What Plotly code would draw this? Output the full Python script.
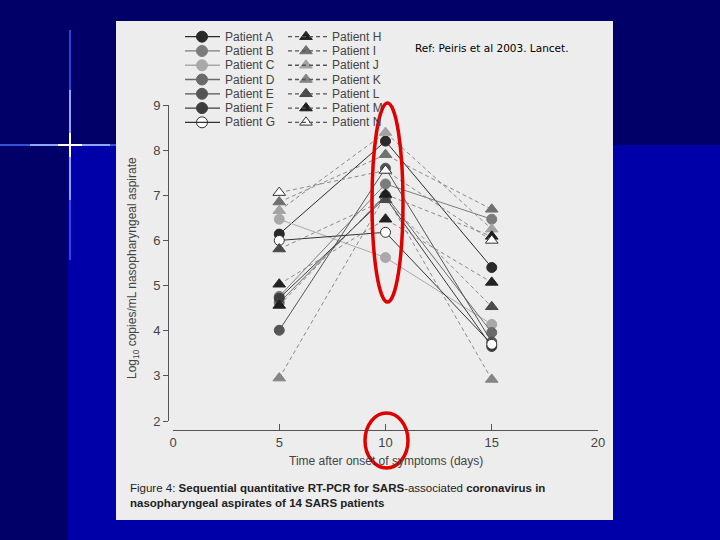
import plotly.graph_objects as go

W, H = 720, 540

# ---------------- data ----------------
days = [5, 10, 15]
x_ticks = [0, 5, 10, 15, 20]
y_ticks = [2, 3, 4, 5, 6, 7, 8, 9]

solid_names = ["Patient A", "Patient B", "Patient C", "Patient D", "Patient E", "Patient F", "Patient G"]
dashed_names = ["Patient H", "Patient I", "Patient J", "Patient K", "Patient L", "Patient M", "Patient N"]

patient_A = [6.14, 8.20, 5.40]
patient_B = [4.76, 7.25, 6.47]
patient_C = [6.47, 5.62, 4.14]
patient_D = [4.62, 7.00, 3.96]
patient_E = [4.01, 7.60, 3.75]
patient_F = [4.72, 6.95, 3.65]
patient_G = [6.00, 6.18, 3.70]

patient_H = [5.03, 6.47, 5.07]
patient_I = [6.85, 7.90, 6.69]
patient_J = [6.66, 8.39, 6.25]
patient_K = [2.95, 7.00, 2.92]
patient_L = [5.81, 6.90, 4.53]
patient_M = [4.56, 7.02, 6.09]
patient_N = [7.06, 7.55, 6.00]

solid_vals = [patient_A, patient_B, patient_C, patient_D, patient_E, patient_F, patient_G]
dashed_vals = [patient_H, patient_I, patient_J, patient_K, patient_L, patient_M, patient_N]

solid_colors = ["#2a2a2a", "#7c7c7c", "#a9a9a9", "#6a6a6a", "#555555", "#3d3d3d", "#ffffff"]
dashed_colors = ["#222222", "#707070", "#a3a3a3", "#858585", "#4a4a4a", "#1e1e1e", "#ffffff"]

# ---------------- helpers (layout, pixel -> paper) ----------------
def px(x):
    return x / W

def py(y):
    return 1 - y / H

fig = go.Figure()

# data traces
for name, vals, col in zip(solid_names, solid_vals, solid_colors):
    open_m = col == "#ffffff"
    fig.add_trace(go.Scatter(
        x=days, y=vals, mode="lines+markers", name=name, showlegend=False,
        line=dict(color="#333333" if open_m else col, width=1),
        marker=dict(symbol="circle", size=10, color=col,
                    line=dict(color="#333333" if open_m else col, width=1)),
        cliponaxis=False,
    ))
for name, vals, col in zip(dashed_names, dashed_vals, dashed_colors):
    open_m = col == "#ffffff"
    fig.add_trace(go.Scatter(
        x=days, y=vals, mode="lines+markers", name=name, showlegend=False,
        line=dict(color="#8a8a8a", width=1, dash="4px,3px"),
        marker=dict(symbol="triangle-up", size=11, color=col,
                    line=dict(color="#333333" if open_m else col, width=1)),
        cliponaxis=False,
    ))

# ---------------- manual legend (pixel overlay axes) ----------------
row0, row_gap = 36.7, 14.27
col1_line = (185, 220, 202, 223)   # line start, line end, marker x, text x
col2_line = (288, 327, 306, 330)
shapes = []
annotations = []

leg_mx, leg_my, leg_sym, leg_col, leg_lc = [], [], [], [], []
for i, (name, col) in enumerate(zip(solid_names, solid_colors)):
    yy = row0 + i * row_gap
    shapes.append(dict(type="line", xref="paper", yref="paper",
                       x0=px(col1_line[0]), x1=px(col1_line[1]), y0=py(yy), y1=py(yy),
                       line=dict(color="#333333" if col == "#ffffff" else col, width=1.3)))
    leg_mx.append(col1_line[2]); leg_my.append(yy); leg_sym.append("circle")
    leg_col.append(col); leg_lc.append("#333333" if col == "#ffffff" else col)
    annotations.append(dict(x=px(col1_line[3]), y=py(yy), xref="paper", yref="paper",
                            text=name, showarrow=False, xanchor="left", yanchor="middle",
                            font=dict(family="Liberation Sans, Arial", size=12, color="#444444")))
for i, (name, col) in enumerate(zip(dashed_names, dashed_colors)):
    yy = row0 + i * row_gap
    shapes.append(dict(type="line", xref="paper", yref="paper",
                       x0=px(col2_line[0]), x1=px(col2_line[1]), y0=py(yy), y1=py(yy),
                       line=dict(color="#555555", width=1.3, dash="4px,3px")))
    leg_mx.append(col2_line[2]); leg_my.append(yy); leg_sym.append("triangle-up")
    leg_col.append(col); leg_lc.append("#333333" if col == "#ffffff" else col)
    annotations.append(dict(x=px(col2_line[3]), y=py(yy), xref="paper", yref="paper",
                            text=name, showarrow=False, xanchor="left", yanchor="middle",
                            font=dict(family="Liberation Sans, Arial", size=12, color="#444444")))

fig.add_trace(go.Scatter(
    x=leg_mx, y=leg_my, mode="markers", xaxis="x2", yaxis="y2", showlegend=False,
    marker=dict(symbol=leg_sym, size=11, color=leg_col, line=dict(color=leg_lc, width=1)),
    hoverinfo="skip", cliponaxis=False,
))

# ---------------- background shapes ----------------
bg = [
    dict(type="rect", x0=0, x1=1, y0=0, y1=1, fillcolor="#000068", line_width=0, layer="below"),
    dict(type="rect", x0=px(68), x1=1, y0=0, y1=py(145), fillcolor="#0000a8", line_width=0, layer="below"),
    # star
    dict(type="line", x0=px(0), x1=px(116), y0=py(145), y1=py(145),
         line=dict(color="rgba(70,110,255,0.75)", width=2), layer="below"),
    dict(type="line", x0=px(30), x1=px(110), y0=py(145), y1=py(145),
         line=dict(color="rgba(150,175,255,0.9)", width=2), layer="below"),
    dict(type="line", x0=px(70), x1=px(70), y0=py(30), y1=py(260),
         line=dict(color="rgba(60,100,255,0.7)", width=2), layer="below"),
    dict(type="line", x0=px(70), x1=px(70), y0=py(90), y1=py(200),
         line=dict(color="rgba(150,175,255,0.9)", width=2), layer="below"),
    dict(type="line", x0=px(58), x1=px(82), y0=py(145), y1=py(145),
         line=dict(color="#ffffff", width=2), layer="below"),
    dict(type="line", x0=px(70), x1=px(70), y0=py(133), y1=py(157),
         line=dict(color="#ffffff", width=2), layer="below"),
    # scanned figure panel
    dict(type="rect", x0=px(116), x1=px(613), y0=py(21), y1=py(520),
         fillcolor="#ededed", line_width=0, layer="below"),
]
for s in bg:
    s.setdefault("xref", "paper")
    s.setdefault("yref", "paper")

ellipses = [
    dict(type="circle", xref="paper", yref="paper", x0=px(372), x1=px(403), y0=py(103), y1=py(302),
         line=dict(color="#e00000", width=3.5), layer="above"),
    dict(type="circle", xref="paper", yref="paper", x0=px(365), x1=px(408), y0=py(413), y1=py(468),
         line=dict(color="#e00000", width=3.5), layer="above"),
]

txt = "Liberation Sans, Arial"
annotations += [
    dict(x=px(133), y=py(268), xref="paper", yref="paper", textangle=-90, showarrow=False,
         xanchor="center", yanchor="middle",
         text="Log<sub>10</sub> copies/mL nasopharyngeal aspirate",
         font=dict(family=txt, size=12, color="#444444")),
    dict(x=px(386), y=py(461), xref="paper", yref="paper", showarrow=False,
         xanchor="center", yanchor="middle",
         text="Time after onset of symptoms (days)",
         font=dict(family=txt, size=12, color="#444444")),
    dict(x=px(128), y=py(480), xref="paper", yref="paper", showarrow=False,
         xanchor="left", yanchor="top", align="left",
         text="Figure 4: <b>Sequential quantitative RT-PCR for SARS</b>-associated <b>coronavirus in</b><br>"
              "<b>nasopharyngeal aspirates of 14 SARS patients</b>",
         font=dict(family=txt, size=11.5, color="#222222")),
    dict(x=px(413), y=py(48), xref="paper", yref="paper", showarrow=False,
         xanchor="left", yanchor="middle", text="Ref: Peiris et al 2003. Lancet.",
         font=dict(family="DejaVu Sans", size=10.5, color="#000000")),
]

fig.update_layout(
    width=W, height=H,
    margin=dict(l=0, r=0, t=0, b=0, autoexpand=False),
    paper_bgcolor="#000068",
    plot_bgcolor="rgba(0,0,0,0)",
    showlegend=False,
    shapes=bg + shapes + ellipses,
    annotations=annotations,
    xaxis=dict(domain=[px(173), px(598)], range=[0, 20], anchor="free", position=py(430),
               tickvals=x_ticks, ticks="inside", ticklen=6, tickcolor="#555555",
               showline=True, linecolor="#555555", linewidth=1, showgrid=False, zeroline=False,
               tickfont=dict(family=txt, size=13, color="#444444")),
    yaxis=dict(domain=[py(421), py(105)], range=[2, 9], anchor="free", position=px(168),
               tickvals=y_ticks, ticks="outside", ticklen=5, tickcolor="#555555",
               showline=True, linecolor="#555555", linewidth=1, showgrid=False, zeroline=False,
               tickfont=dict(family=txt, size=13, color="#444444")),
    xaxis2=dict(domain=[0, 1], range=[0, W], anchor="y2", visible=False),
    yaxis2=dict(domain=[0, 1], range=[H, 0], anchor="x2", visible=False),
)

fig.write_html("out.html", config={"displayModeBar": False},
               post_script="document.body.style.margin='0px';document.body.style.overflow='hidden';")
